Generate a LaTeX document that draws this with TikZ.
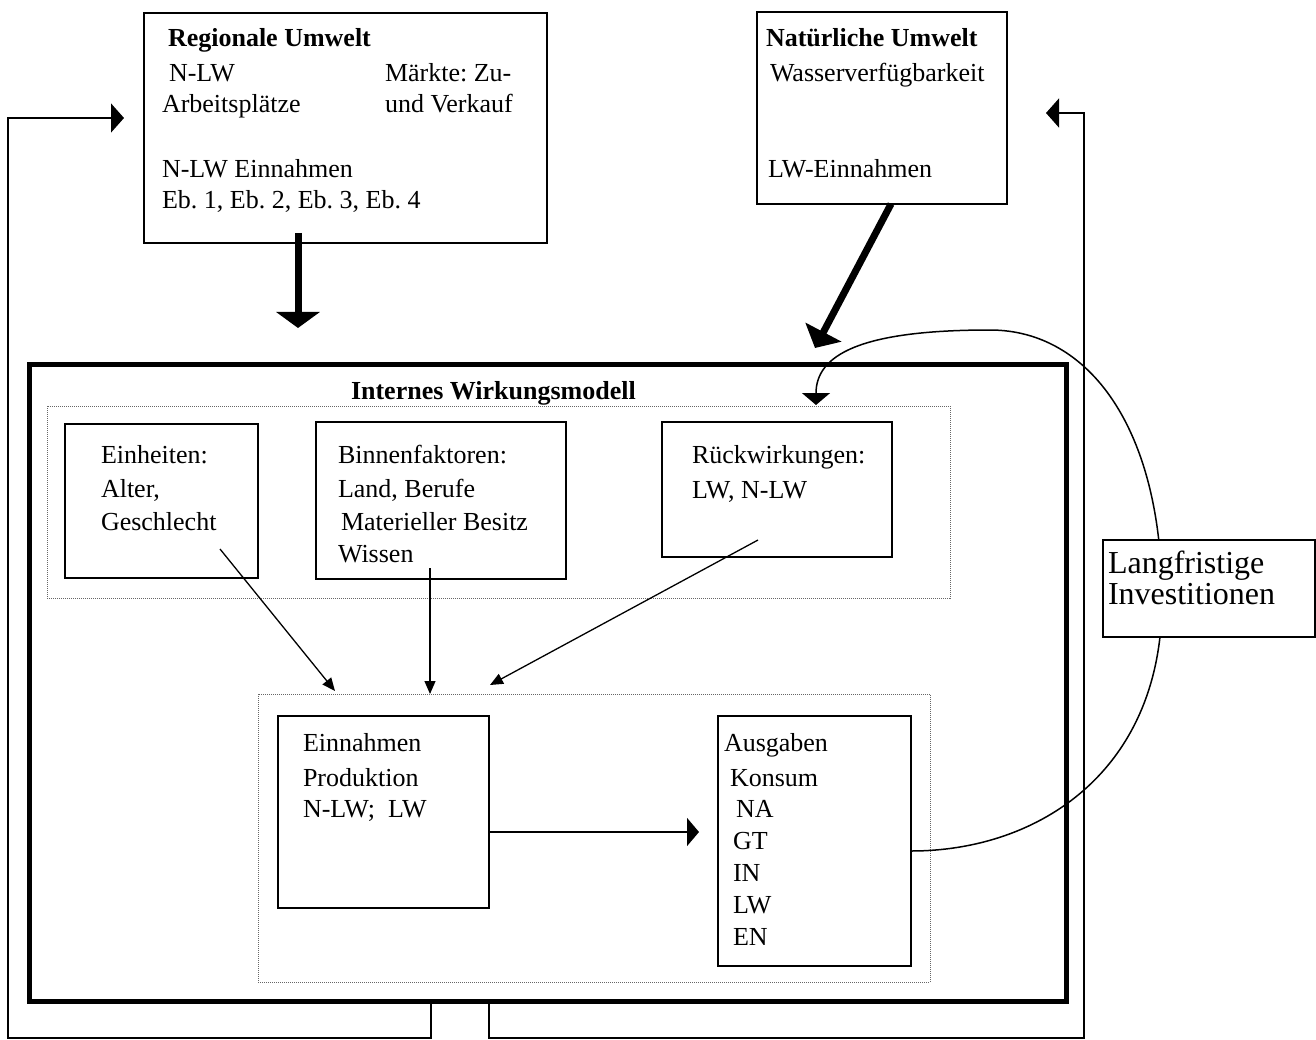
\documentclass[tikz,border=0pt]{standalone}
\usepackage{fontspec}
\setmainfont{Liberation Serif}
\frenchspacing
\usetikzlibrary{arrows.meta}
\tikzset{
  box/.style={draw, line width=1.6pt, fill=white, inner sep=0pt, outer sep=0pt, anchor=north west},
  dotbox/.style={draw=black!60, line width=0.9pt, dash pattern=on 1pt off 1pt, inner sep=0pt, outer sep=0pt, anchor=north west},
  mainbox/.style={draw, line width=5pt, inner sep=0pt, outer sep=0pt, anchor=north west},
  txt/.style={anchor=base west, inner sep=0pt, outer sep=0pt, font=\fontsize{26}{31}\selectfont\frenchspacing},
  ttl/.style={anchor=base west, inner sep=0pt, outer sep=0pt, font=\fontsize{26}{31}\selectfont\bfseries\frenchspacing},
  bigtxt/.style={anchor=base west, inner sep=0pt, outer sep=0pt, font=\fontsize{32}{32}\selectfont},
  fb/.style={line width=1.6pt, -{Triangle[length=13pt,width=29pt]}},
  small/.style={line width=1.3pt, -{Triangle[length=13pt,width=11pt]}},
  thick/.style={line width=7pt}
}
\begin{document}
\begin{tikzpicture}[x=1pt,y=-1pt]
\useasboundingbox (0,0) rectangle (1316,1040);

% ---- feedback loops (drawn first) ----
\node[mainbox, minimum width=1037, minimum height=637] (main) at (29,364) {};
\coordinate (flA) at (431,1038);
\coordinate (flB) at (8,1038);
\coordinate (flC) at (8,118);
\coordinate (flTip) at (124,118);
\coordinate (frA) at (489,1038);
\coordinate (frB) at (1084,1038);
\coordinate (frC) at (1084,113);
\coordinate (frTip) at (1046,113);
\draw[fb] (main.south -| flA) -- (flA) -- (flB) -- (flC) -- (flTip);
\draw[fb] (main.south -| frA) -- (frA) -- (frB) -- (frC) -- (frTip);

% ---- top boxes ----
\node[box, minimum width=403, minimum height=230] (reg) at (144,13) {};
\node[ttl] (regT) at (168,47) {Regionale Umwelt};
\node[txt] (reg1) at (169,82) {N-LW};
\node[txt] (reg2) at (162,113) {Arbeitsplätze};
\node[txt] (reg3) at (385,82) {Märkte: Zu-};
\node[txt] (reg4) at (385,113) {und Verkauf};
\node[txt] (reg5) at (162,178) {N-LW Einnahmen};
\node[txt] (reg6) at (162,209) {Eb. 1, Eb. 2, Eb. 3, Eb. 4};

\node[box, minimum width=250, minimum height=192] (nat) at (757,12) {};
\node[ttl] (natT) at (766,47) {Natürliche Umwelt};
\node[txt] (nat1) at (770,82) {Wasserverfügbarkeit};
\node[txt] (nat2) at (768,178) {LW-Einnahmen};

% thick arrows
\coordinate (regS) at (298,233);
\coordinate (regTip) at (298,328);
\draw[thick, -{Triangle[length=16pt,width=43pt]}] (regS) -- (regTip);
\coordinate (natS) at (891,204);
\coordinate (natTip) at (815,348);
\draw[thick, -{Triangle[length=18pt,width=40pt]}] (natS) -- (natTip);

% ---- internal model ----
\node[ttl] (intT) at (351,399) {Internes Wirkungsmodell};
\node[dotbox, minimum width=903, minimum height=192] (up) at (47,406) {};
\node[box, minimum width=193, minimum height=154] (ein) at (65,424) {};
\node[txt] (ein1) at (101,463) {Einheiten:};
\node[txt] (ein2) at (101,497) {Alter,};
\node[txt] (ein3) at (101,530) {Geschlecht};

\node[box, minimum width=250, minimum height=157] (bin) at (316,422) {};
\node[txt] (bin1) at (338,463) {Binnenfaktoren:};
\node[txt] (bin2) at (338,497) {Land, Berufe};
\node[txt] (bin3) at (341,530) {Materieller Besitz};
\node[txt] (bin4) at (338,562) {Wissen};

\node[box, minimum width=230, minimum height=135] (rue) at (662,422) {};
\node[txt] (rue1) at (692,463) {Rückwirkungen:};
\node[txt] (rue2) at (692,498) {LW, N-LW};

\node[dotbox, minimum width=672, minimum height=288] (low) at (258,694) {};
\node[box, minimum width=211, minimum height=192] (enn) at (278,716) {};
\node[txt] (enn1) at (303,751) {Einnahmen};
\node[txt] (enn2) at (303,786) {Produktion};
\node[txt] (enn3) at (303,817) {N-LW;\ \ LW};

\node[box, minimum width=193, minimum height=250] (aus) at (718,716) {};
\node[txt] (aus1) at (724,751) {Ausgaben};
\node[txt] (aus2) at (730,786) {Konsum};
\node[txt] (aus3) at (736,817) {NA};
\node[txt] (aus4) at (733,849) {GT};
\node[txt] (aus5) at (733,881) {IN};
\node[txt] (aus6) at (733,913) {LW};
\node[txt] (aus7) at (733,945) {EN};

% arrows into lower box
\coordinate (a1) at (220,549);
\coordinate (a1e) at (335,691);
\draw[small] (a1) -- (a1e);
\coordinate (a2) at (430,568);
\draw[small] (a2) -- (low.north -| a2);
\coordinate (a3) at (758,540);
\coordinate (a3e) at (490,685);
\draw[small] (a3) -- (a3e);

% Einnahmen -> Ausgaben
\draw[line width=1.6pt, -{Triangle[length=12pt,width=28pt]}] (enn.east |- 0,832) -- ([xshift=-19pt]aus.west |- 0,832);

% long-term investment curve
\coordinate (cTop) at (990,330);
\coordinate (cR) at (1162,600);
\coordinate (cEnd) at (816,405);
\draw[line width=1.5pt, -{Triangle[length=12pt,width=28pt]}]
  ([yshift=-10pt]aus.east) .. controls (1040,851) and (1162,770) .. (cR)
  .. controls (1162,430) and (1090,330) .. (cTop)
  .. controls (860,330) and (816,355) .. (cEnd);

\node[box, minimum width=212, minimum height=97] (lang) at (1103,540) {};
\node[bigtxt] (lang1) at (1108,573) {Langfristige};
\node[bigtxt] (lang2) at (1108,604) {Investitionen};
\end{tikzpicture}
\end{document}
